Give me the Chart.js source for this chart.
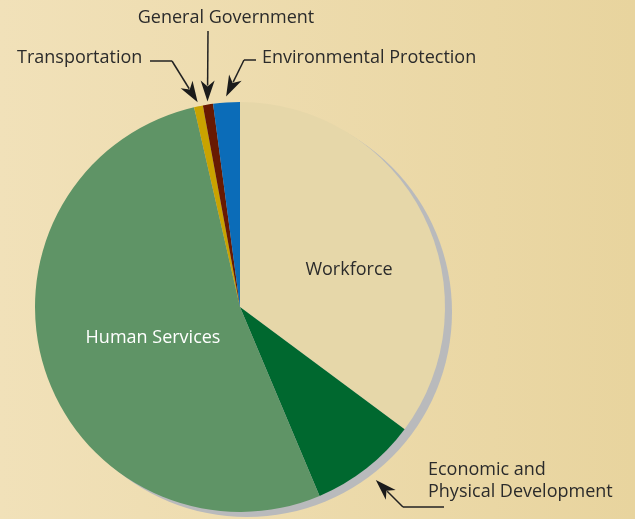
<!DOCTYPE html>
<html>
<head>
<meta charset="utf-8">
<script src="https://cdn.jsdelivr.net/npm/chart.js@4/dist/chart.umd.min.js"></script>
<style>
  html, body { margin: 0; padding: 0; }
  body { width: 635px; height: 519px; background: linear-gradient(90deg, #f1e1b9 0%, #e8d49e 100%); }
  #wrap { width: 635px; height: 519px; }
</style>
</head>
<body>
<div id="wrap"><canvas id="pieChart" width="635" height="519"></canvas></div>
<script>
// shares of the total (percent), clockwise from 12 o'clock
const categorias = ['Workforce', 'Economic and Physical Development', 'Human Services',
                    'Transportation', 'General Government', 'Environmental Protection'];
const valores = [35.2, 8.5, 52.8, 0.7, 0.8, 2.1];
const colores = ['#e6d7a9', '#00682f', '#5f9466', '#c9a300', '#681a02', '#0b6cb8'];

// labels drawn inside the pie
const etiquetasInternas = [
    { idx: 0, lineas: ['Workforce'], x: 349, y: 270, color: '#2b2b2b' },
    { idx: 2, lineas: ['Human Services'], x: 153, y: 338, color: '#ffffff' }
];

// callout labels: text position, elbow points, arrow tip radius offset
const llamadas = [
    { idx: 3, lineas: ['Transportation'], tx: 17, ty: 58, align: 'left', camino: [[150, 61], [172, 61]], extra: 4 },
    { idx: 4, lineas: ['General Government'], tx: 226, ty: 18, align: 'center', camino: [[208, 31]], extra: 3 },
    { idx: 5, lineas: ['Environmental Protection'], tx: 262, ty: 58, align: 'left', camino: [[256, 60], [244, 60]], extra: 6 },
    { idx: 1, lineas: ['Economic and', 'Physical Development'], tx: 428, ty: 470, align: 'left', camino: [[444, 507], [403, 507]], extra: 15 }
];

const FUENTE = '"Open Sans", "Noto Sans", sans-serif';

function flecha(ctx, x0, y0, x1, y1) {
    const ang = Math.atan2(y1 - y0, x1 - x0);
    const largo = 21, ancho = 7;
    const bx = x1 - Math.cos(ang) * largo, by = y1 - Math.sin(ang) * largo;
    ctx.beginPath();
    ctx.moveTo(x0, y0);
    ctx.lineTo(bx + Math.cos(ang) * 5, by + Math.sin(ang) * 5);
    ctx.stroke();
    ctx.beginPath();
    ctx.moveTo(x1, y1);
    ctx.lineTo(bx - Math.sin(ang) * ancho, by + Math.cos(ang) * ancho);
    ctx.lineTo(bx + Math.cos(ang) * 6, by + Math.sin(ang) * 6);
    ctx.lineTo(bx + Math.sin(ang) * ancho, by - Math.cos(ang) * ancho);
    ctx.closePath();
    ctx.fill();
}

const sombraPlugin = {
    id: 'sombra',
    beforeDatasetsDraw(chart) {
        const arc = chart.getDatasetMeta(0).data[0];
        if (!arc) return;
        const ctx = chart.ctx;
        ctx.save();
        ctx.fillStyle = '#b9babc';
        ctx.beginPath();
        ctx.arc(arc.x + 7, arc.y + 5, arc.outerRadius, 0, Math.PI * 2);
        ctx.fill();
        ctx.restore();
    }
};

const etiquetasPlugin = {
    id: 'etiquetas',
    afterDatasetsDraw(chart) {
        const ctx = chart.ctx;
        const arcs = chart.getDatasetMeta(0).data;
        ctx.save();
        ctx.font = '18px ' + FUENTE;
        ctx.textBaseline = 'middle';

        etiquetasInternas.forEach(e => {
            ctx.fillStyle = e.color;
            ctx.textAlign = 'center';
            e.lineas.forEach((l, i) => ctx.fillText(l, e.x, e.y + i * 22));
        });

        llamadas.forEach(c => {
            const a = arcs[c.idx];
            const mid = (a.startAngle + a.endAngle) / 2;
            const r = a.outerRadius + c.extra;
            const tipX = a.x + Math.cos(mid) * r;
            const tipY = a.y + Math.sin(mid) * r;

            ctx.fillStyle = '#2b2b2b';
            ctx.textAlign = c.align;
            c.lineas.forEach((l, i) => ctx.fillText(l, c.tx, c.ty + i * 22));

            ctx.strokeStyle = '#222';
            ctx.fillStyle = '#1b1b1b';
            ctx.lineWidth = 1.5;
            const pts = c.camino;
            ctx.beginPath();
            ctx.moveTo(pts[0][0], pts[0][1]);
            for (let i = 1; i < pts.length; i++) ctx.lineTo(pts[i][0], pts[i][1]);
            ctx.stroke();
            const last = pts[pts.length - 1];
            flecha(ctx, last[0], last[1], tipX, tipY);
        });
        ctx.restore();
    }
};

const ctx = document.getElementById('pieChart').getContext('2d');
new Chart(ctx, {
    type: 'pie',
    data: {
        labels: categorias,
        datasets: [{
            data: valores,
            backgroundColor: colores,
            borderWidth: 0
        }]
    },
    options: {
        responsive: false,
        animation: false,
        layout: { padding: { left: 35, right: 190, top: 102, bottom: 7 } },
        plugins: {
            legend: { display: false },
            tooltip: { enabled: false }
        }
    },
    plugins: [sombraPlugin, etiquetasPlugin]
});
</script>
</body>
</html>
